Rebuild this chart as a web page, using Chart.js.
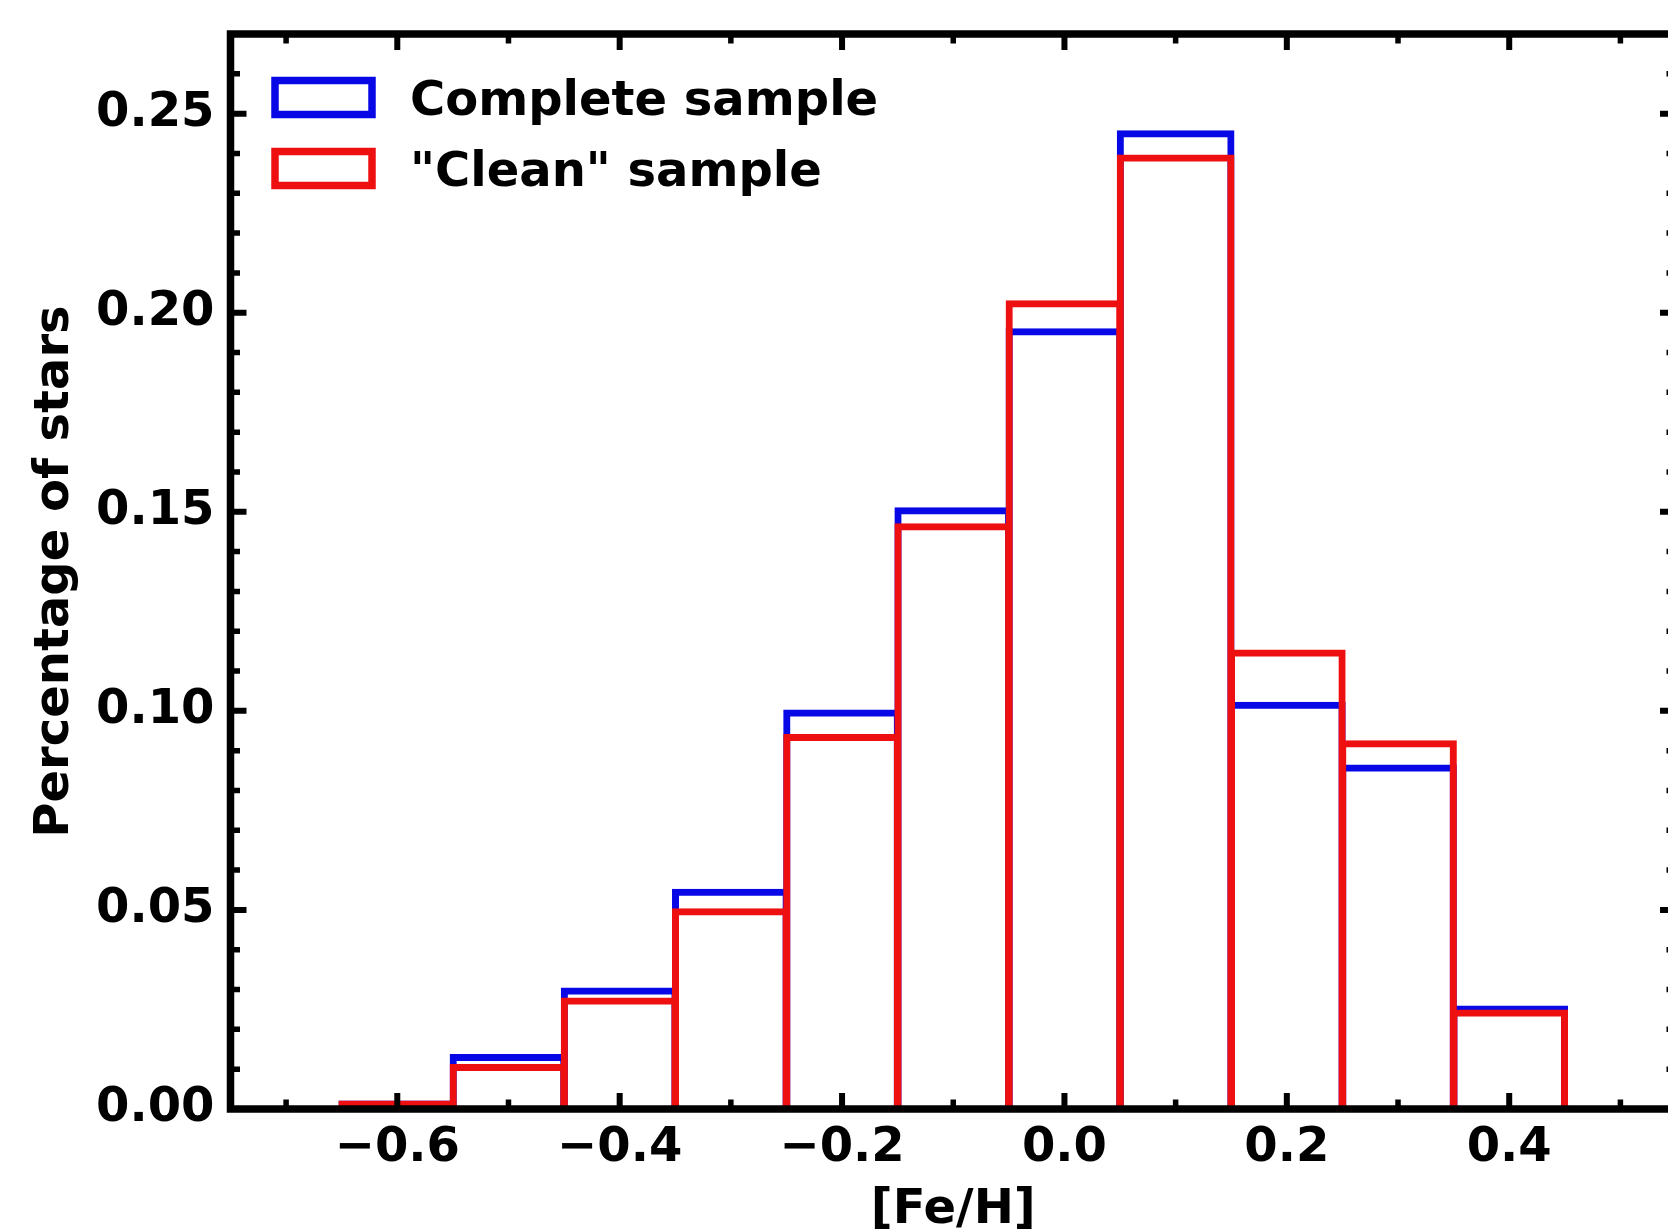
<!DOCTYPE html>
<html>
<head>
<meta charset="utf-8">
<title>[Fe/H] distribution</title>
<script src="https://cdn.jsdelivr.net/npm/chart.js@4/dist/chart.umd.min.js"></script>
<style>
  html, body { margin: 0; padding: 0; background: #ffffff; }
  #wrap { width: 1668px; height: 1232px; overflow: hidden; position: relative; background: #ffffff; }
  #chart { display: block; }
</style>
</head>
<body>
<div id="wrap"><canvas id="chart" width="1700" height="1232"></canvas></div>
<script>
// Histogram bins ([Fe/H] bin centres, width 0.1 dex)
const binCenters = [-0.6, -0.5, -0.4, -0.3, -0.2, -0.1, 0.0, 0.1, 0.2, 0.3, 0.4];

// Fraction of stars per bin
const completeSample = [0.0013, 0.0130, 0.0297, 0.0545, 0.0995, 0.1503, 0.1953, 0.2450, 0.1015, 0.0857, 0.0252];
const cleanSample    = [0.0013, 0.0105, 0.0272, 0.0496, 0.0934, 0.1463, 0.2023, 0.2389, 0.1146, 0.0918, 0.0242];

const seriesLabels = ['Complete sample', '"Clean" sample'];

// Axis ticks
const xTickValues  = [-0.6, -0.4, -0.2, 0.0, 0.2, 0.4];
const xMinorTicks  = [-0.7, -0.5, -0.3, -0.1, 0.1, 0.3, 0.5];
const yTickValues  = [0.00, 0.05, 0.10, 0.15, 0.20, 0.25];
const yMinorTicks  = [0.01, 0.02, 0.03, 0.04, 0.06, 0.07, 0.08, 0.09,
                      0.11, 0.12, 0.13, 0.14, 0.16, 0.17, 0.18, 0.19,
                      0.21, 0.22, 0.23, 0.24, 0.26];

const FONT = 'DejaVu Sans';
const BLUE = '#0808e6';
const RED = '#ee1010';
const EDGE = 7;             // outline width of the histogram bars

const toPoints = vals => binCenters.map((c, i) => ({ x: c, y: vals[i] }));
const minus = s => s.replace('-', '\u2212');

// Outline-only bars: a hair-thin border inflated outward so the stroke
// is centred on each bin edge, as a classic unfilled histogram.
const barStyle = color => ({
  backgroundColor: 'rgba(0,0,0,0)',
  borderColor: color,
  borderWidth: 0.5,
  inflateAmount: (EDGE - 0.5) / 2,
  borderSkipped: 'start',
  grouped: false,
  barPercentage: 1,
  categoryPercentage: 1
});

// Axes frame with inward major/minor ticks on all four sides
const frameTicks = {
  id: 'frameTicks',
  afterDatasetsDraw(chart) {
    const { ctx, chartArea: a, scales: { x, y } } = chart;
    ctx.save();
    ctx.strokeStyle = '#000';
    ctx.lineCap = 'butt';
    const xt = (vals, len, w) => {
      ctx.lineWidth = w;
      ctx.beginPath();
      vals.forEach(v => {
        const p = x.getPixelForValue(v);
        ctx.moveTo(p, a.bottom); ctx.lineTo(p, a.bottom - len);
        ctx.moveTo(p, a.top); ctx.lineTo(p, a.top + len);
      });
      ctx.stroke();
    };
    const yt = (vals, len, w) => {
      ctx.lineWidth = w;
      ctx.beginPath();
      vals.forEach(v => {
        const p = y.getPixelForValue(v);
        ctx.moveTo(a.left, p); ctx.lineTo(a.left + len, p);
        ctx.moveTo(a.right, p); ctx.lineTo(a.right - len, p);
      });
      ctx.stroke();
    };
    xt(xTickValues, 16, 6);
    xt(xMinorTicks, 9.5, 5.5);
    yt(yTickValues, 16, 6);
    yt(yMinorTicks, 9.5, 5.5);
    ctx.lineWidth = 7.5;
    ctx.strokeRect(a.left, a.top, a.right - a.left, a.bottom - a.top);
    ctx.restore();
  }
};

// Legend drawn inside the upper-left corner of the plot
const innerLegend = {
  id: 'innerLegend',
  afterDraw(chart, args, opts) {
    const { ctx, chartArea: a } = chart;
    ctx.save();
    ctx.font = `bold ${opts.fontSize}px "${FONT}"`;
    ctx.textAlign = 'left';
    ctx.textBaseline = 'alphabetic';
    chart.data.datasets.forEach((ds, i) => {
      const bx = a.left + opts.offsetX;
      const by = a.top + opts.offsetY + i * opts.rowGap;
      ctx.lineWidth = opts.lineWidth;
      ctx.strokeStyle = ds.borderColor;
      ctx.strokeRect(bx, by, opts.boxWidth, opts.boxHeight);
      ctx.fillStyle = '#000';
      ctx.fillText(ds.label, bx + opts.textGap, by + opts.boxHeight + 0.5);
    });
    ctx.restore();
  }
};

const tickFont = { family: FONT, size: 48, weight: 'bold', lineHeight: 1 };

new Chart(document.getElementById('chart'), {
  type: 'bar',
  data: {
    datasets: [
      Object.assign({ label: seriesLabels[0], data: toPoints(completeSample), order: 2 }, barStyle(BLUE)),
      Object.assign({ label: seriesLabels[1], data: toPoints(cleanSample), order: 1 }, barStyle(RED))
    ]
  },
  options: {
    responsive: false,
    animation: false,
    devicePixelRatio: 1,
    layout: { padding: { left: 0, top: 34, right: 24, bottom: 0 } },
    scales: {
      x: {
        type: 'linear',
        min: -0.75,
        max: 0.55,
        offset: false,
        grid: { display: false, drawTicks: false },
        border: { display: false },
        afterBuildTicks: s => { s.ticks = xTickValues.map(v => ({ value: v })); },
        afterFit: s => { s.height = 123; s.paddingLeft = 0; s.paddingRight = 0; },
        ticks: {
          autoSkip: false,
          maxRotation: 0,
          padding: 16,
          color: '#000',
          font: tickFont,
          callback: v => minus(Number(v).toFixed(1))
        },
        title: {
          display: true,
          text: '[Fe/H]',
          color: '#000',
          font: tickFont,
          padding: { top: 0, bottom: -3 }
        }
      },
      y: {
        type: 'linear',
        min: 0,
        max: 0.27,
        grid: { display: false, drawTicks: false },
        border: { display: false },
        afterBuildTicks: s => { s.ticks = yTickValues.map(v => ({ value: v })); },
        afterFit: s => { s.width = 230.5; s.paddingTop = 0; s.paddingBottom = 0; },
        ticks: {
          padding: 16,
          color: '#000',
          font: tickFont,
          callback: v => Number(v).toFixed(2)
        },
        title: {
          display: true,
          text: 'Percentage of stars',
          color: '#000',
          font: tickFont,
          padding: { top: 32, bottom: 0 }
        }
      }
    },
    plugins: {
      legend: { display: false },
      tooltip: { enabled: false },
      innerLegend: {
        fontSize: 48,
        offsetX: 44.5,
        offsetY: 46.5,
        rowGap: 71,
        boxWidth: 97,
        boxHeight: 34,
        lineWidth: 7.5,
        textGap: 135
      }
    }
  },
  plugins: [frameTicks, innerLegend]
});
</script>
</body>
</html>
